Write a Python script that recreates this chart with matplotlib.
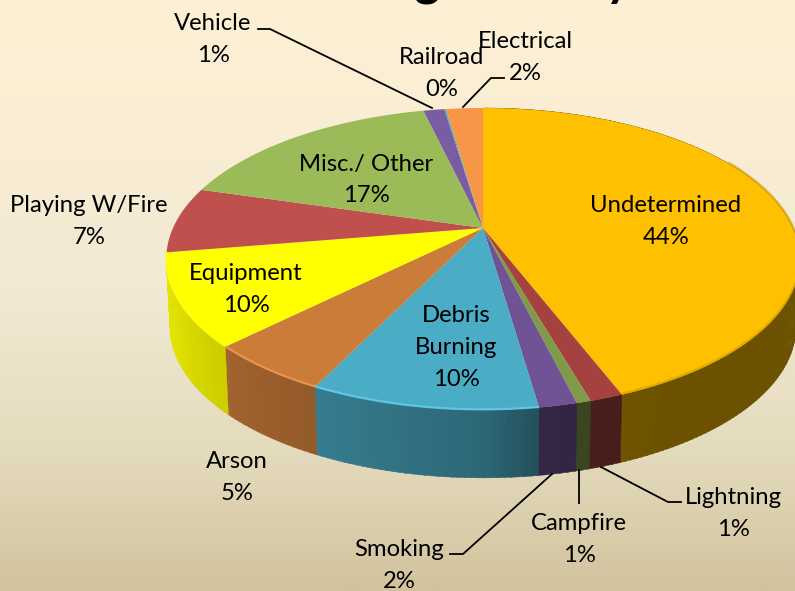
import numpy as np
import matplotlib
matplotlib.use("Agg")
import matplotlib.pyplot as plt
from matplotlib.colors import LinearSegmentedColormap, to_rgb

# ---- data (clockwise from 12 o'clock) ----
categories = ["Undetermined", "Lightning", "Campfire", "Smoking", "Debris\nBurning", "Arson",
              "Equipment", "Playing W/Fire", "Misc./ Other", "Vehicle", "Railroad", "Electrical"]
values = [44.1, 1.4, 0.6, 1.6, 9.6, 5.3, 9.8, 7.1, 16.8, 1.3, 0.1, 2.3]
colors = ["#FFC000", "#A5423F", "#7F9A48", "#6F5394", "#4BACC6", "#CB7C39",
          "#FFFF00", "#C0504D", "#9BBB59", "#7A5CA3", "#4BACC6", "#F79646"]
label_xy = [(666, 205), (733, 498), (579, 524), (399, 550), (456, 316), (237, 462),
            (246, 274), (89, 205), (366, 164), (213, 24), (442, 58), (525, 42)]
leaders = [
    [(258, 29), (270, 29), (432, 108)],
    [(504, 78), (491, 78), (463, 107)],
    [(681, 502), (668, 502), (601, 467)],
    [(579, 503), (579, 470)],
    [(450, 554), (463, 554), (552, 474)],
]
title_text = "Ignition by"

FONT = "Lato"
W, H = 795, 591
fig = plt.figure(figsize=(W / 100, H / 100), dpi=100)
ax = fig.add_axes([0, 0, 1, 1])
ax.set_xlim(0, W)
ax.set_ylim(H, 0)
ax.axis("off")

# background gradient
stops = [(0.0, "#FDF0D5"), (0.25, "#F9EDD3"), (0.5, "#F1E9D3"), (0.75, "#E5DCBE"), (1.0, "#D2C39E")]
cmap = LinearSegmentedColormap.from_list("bg", stops)
ax.imshow(np.linspace(0, 1, 256)[:, None], cmap=cmap, extent=(0, W, H, 0), aspect="auto", zorder=0)

# projected disc geometry
CX, CY, A, B, K, DEPTH = 483, 228, 310, 144.6, 0.205, 68


def rim(t):
    u, v = np.sin(t), np.cos(t)
    w = 1 + K * v
    return CX + A * u / w, CY - B * v / w


def shade(t):
    return np.interp(np.degrees(t), [0, 150, 172, 180, 205, 225, 245, 262, 360],
                     [.42, .42, .47, .60, .72, .80, .88, .90, .90])


edges = np.cumsum([0] + values) / sum(values) * 2 * np.pi

# sides: only the front slices show a wall
for i, c in enumerate(colors[:7]):
    base = np.array(to_rgb(c))
    ts = np.linspace(edges[i], edges[i + 1], max(3, int((edges[i + 1] - edges[i]) * 60)))
    for t0, t1 in zip(ts[:-1], ts[1:]):
        x0, y0 = rim(t0)
        x1, y1 = rim(t1 + 0.004)
        bx0 = CX + (x0 - CX) * 0.988
        bx1 = CX + (x1 - CX) * 0.988
        ax.fill([x0, x1, bx1, bx0], [y0, y1, y1 + DEPTH, y0 + DEPTH],
                color=base * shade((t0 + t1) / 2), lw=0.3, zorder=2)

# top face
for i, c in enumerate(colors):
    ts = np.linspace(edges[i], edges[i + 1], max(3, int((edges[i + 1] - edges[i]) * 80)))
    xs, ys = rim(ts)
    ax.fill(np.r_[CX, xs], np.r_[CY, ys], color=c, lw=0, zorder=3)
    deg = np.degrees(ts)
    if i == 0:
        # soft darker edge on the large slice
        m = deg > 60
        ax.plot(xs[m], ys[m] - 1, color=np.array(to_rgb(c)) * 0.82, lw=1.6, alpha=.6,
                zorder=4, solid_capstyle="butt")
    elif 4 <= i <= 6:
        # bright rim highlight on the lit slices
        ax.plot(xs, ys - 0.5, color=np.clip(np.array(to_rgb(c)) * 1.12 + .08, 0, 1),
                lw=1.6, alpha=.7, zorder=4, solid_capstyle="butt")

# leader lines
for pts in leaders:
    ax.plot(*zip(*pts), color="black", lw=1.3, zorder=5, solid_joinstyle="miter")

# labels
for name, val, (x, y) in zip(categories, values, label_xy):
    lines = name.split("\n") + [f"{round(val)}%"]
    for j, ln in enumerate(lines):
        ax.text(x, y + 32 * j, ln, ha="center", va="center", fontsize=17.2,
                family=FONT, color="black", zorder=6)

# title, cut off by the top edge of the picture as in the reference
ax.text(400, -5, title_text, ha="left", va="baseline", fontsize=35, fontweight="bold",
        family=FONT, color="black", zorder=6, clip_on=True)

fig.savefig("out.png", dpi=100)
